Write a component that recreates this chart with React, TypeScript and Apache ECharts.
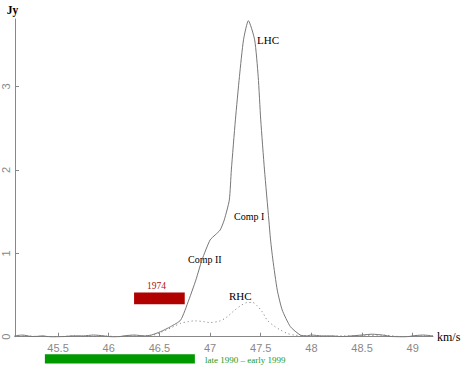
import React, { useEffect, useRef } from "react";
import * as echarts from "echarts";

// LHC spectrum (km/s, Jy)
const lhcVel = [
  45.07, 45.15, 45.25, 45.35, 45.45, 45.55, 45.65, 45.75, 45.85, 45.95, 46.05, 46.15, 46.25, 46.35, 46.42,
  46.51, 46.61, 46.71, 46.79, 46.86, 46.92, 47.0, 47.05, 47.1, 47.14, 47.19, 47.21, 47.25, 47.29, 47.33, 47.378,
  47.44, 47.475, 47.5, 47.537, 47.58, 47.597, 47.62, 47.663, 47.712, 47.793, 47.89,
  47.95, 48.0, 48.1, 48.2, 48.3, 48.4, 48.5, 48.6, 48.7, 48.8, 48.9, 49.0, 49.1, 49.2,
];
const lhcFlux = [
  0.01, 0.02, 0.0, 0.01, -0.01, 0.0, 0.01, 0.01, 0.02, 0.01, -0.01, 0.01, 0.02, 0.01, 0.02,
  0.06, 0.12, 0.2, 0.44, 0.68, 0.92, 1.16, 1.22, 1.28, 1.4, 1.64, 2.0, 2.6, 3.12, 3.56, 3.79,
  3.56, 3.12, 2.6, 2.0, 1.4, 1.16, 0.92, 0.56, 0.32, 0.12, 0.02,
  0.01, 0.02, 0.01, 0.01, 0.0, 0.01, 0.02, 0.03, 0.02, 0.0, -0.01, 0.01, 0.02, 0.01,
];

// RHC spectrum (km/s, Jy)
const rhcVel = [
  45.07, 45.2, 45.35, 45.5, 45.65, 45.8, 45.95, 46.1, 46.25, 46.4, 46.51, 46.62, 46.71, 46.78, 46.85,
  46.94, 47.0, 47.1, 47.17, 47.235, 47.3, 47.37, 47.42, 47.465, 47.52, 47.563, 47.63, 47.695, 47.76, 47.83,
  47.95, 48.1, 48.3, 48.5, 48.7, 48.9, 49.1, 49.2,
];
const rhcFlux = [
  0.0, 0.01, 0.0, 0.0, 0.01, 0.0, 0.01, 0.0, 0.01, 0.01, 0.05, 0.11, 0.16, 0.18, 0.19,
  0.18, 0.17, 0.19, 0.24, 0.31, 0.37, 0.41, 0.41, 0.37, 0.29, 0.2, 0.13, 0.08, 0.04, 0.02,
  0.01, 0.0, 0.01, 0.01, 0.02, 0.0, 0.01, 0.01,
];

// observing epochs: [v start, v end, y top, y bottom]
const epoch1974 = [46.25, 46.75, 0.53, 0.39];
const epoch1990 = [45.37, 46.85, -0.21, -0.32];

const xTicks = [45.5, 46, 46.5, 47, 47.5, 48, 48.5, 49];
const yTicks = [0, 1, 2, 3];

const SERIF = "Liberation Serif";

export default function App() {
  const ref = useRef<HTMLDivElement>(null);
  useEffect(() => {
    if (!ref.current) return;
    const chart = echarts.init(ref.current, null, { renderer: "svg" });
    const rectItem = (color: string) => (params: any, api: any) => {
      const p1 = api.coord([api.value(0), api.value(2)]);
      const p2 = api.coord([api.value(1), api.value(3)]);
      return {
        type: "rect",
        shape: { x: p1[0], y: p1[1], width: p2[0] - p1[0], height: p2[1] - p1[1] },
        style: { fill: color },
      };
    };
    chart.setOption({
      animation: false,
      backgroundColor: "#ffffff",
      grid: { left: 13, right: 37, top: 19, bottom: 39.3, containLabel: false },
      xAxis: {
        type: "value",
        min: 45.075,
        max: 49.2,
        name: "km/s",
        nameLocation: "end",
        nameGap: 4,
        nameTextStyle: { fontFamily: SERIF, fontSize: 12, color: "#000" },
        axisLine: { show: true, lineStyle: { color: "#888", width: 1 } },
        axisTick: { show: true, inside: true, length: 4, customValues: xTicks, lineStyle: { color: "#888" } },
        axisLabel: {
          customValues: xTicks,
          color: "#888",
          fontFamily: "Liberation Sans",
          fontSize: 11,
          margin: 6,
        },
        splitLine: { show: false },
      },
      yAxis: {
        type: "value",
        min: 0,
        max: 3.81,
        name: "Jy",
        nameLocation: "end",
        nameGap: 3,
        nameTextStyle: {
          fontFamily: SERIF,
          fontSize: 11.5,
          fontWeight: "bold",
          color: "#000",
          align: "center",
          padding: [0, 5, 0, 0],
        },
        axisLine: { show: true, lineStyle: { color: "#888", width: 1 } },
        axisTick: { show: true, inside: true, length: 4, customValues: yTicks, lineStyle: { color: "#888" } },
        axisLabel: {
          customValues: yTicks,
          rotate: 90,
          color: "#888",
          fontFamily: "Liberation Sans",
          fontSize: 11,
          margin: 4,
        },
        splitLine: { show: false },
      },
      series: [
        {
          type: "line",
          data: rhcVel.map((v, i) => [v, rhcFlux[i]]),
          showSymbol: false,
          smooth: 0.3,
          lineStyle: { color: "#777", width: 1, type: [1, 3] },
          z: 2,
        },
        {
          type: "line",
          data: lhcVel.map((v, i) => [v, lhcFlux[i]]),
          showSymbol: false,
          smooth: 0.2,
          lineStyle: { color: "#777", width: 1 },
          z: 3,
        },
        {
          type: "custom",
          clip: false,
          renderItem: rectItem("#b00000"),
          encode: { x: [0, 1], y: [2, 3] },
          data: [epoch1974],
          z: 4,
        },
        {
          type: "custom",
          clip: false,
          renderItem: rectItem("#009900"),
          encode: { x: [0, 1], y: [2, 3] },
          data: [epoch1990],
          z: 4,
        },
      ],
      graphic: [
        { type: "text", left: 257, top: 34, style: { text: "LHC", font: `11px '${SERIF}'`, fill: "#000" } },
        { type: "text", left: 234, top: 211, style: { text: "Comp I", font: `10px '${SERIF}'`, fill: "#000" } },
        { type: "text", left: 188, top: 254, style: { text: "Comp II", font: `10px '${SERIF}'`, fill: "#000" } },
        { type: "text", left: 229, top: 290, style: { text: "RHC", font: `11px '${SERIF}'`, fill: "#000" } },
        { type: "text", left: 147, top: 280.5, style: { text: "1974", font: `9.5px '${SERIF}'`, fill: "#b01010" } },
        {
          type: "text",
          left: 205,
          top: 355.5,
          style: { text: "late 1990 \u2013 early 1999", font: `9px '${SERIF}'`, fill: "#1a9a1a" },
        },
      ],
    });
    return () => chart.dispose();
  }, []);
  return (
    <div
      ref={ref}
      style={{ position: "absolute", left: 0, top: 0, width: 470, height: 376, background: "#fff" }}
    />
  );
}
